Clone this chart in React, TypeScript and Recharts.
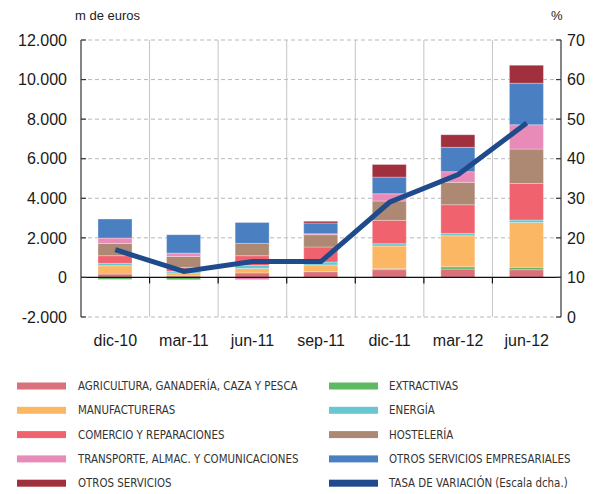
import React from "react";
import {
  ComposedChart,
  Bar,
  Line,
  XAxis,
  YAxis,
  CartesianGrid,
  ReferenceLine,
} from "recharts";

const categories = ["dic-10", "mar-11", "jun-11", "sep-11", "dic-11", "mar-12", "jun-12"];

// m de euros, por sector
const agricultura = [170, 80, 230, 290, 390, 420, 390];
const extractivas = [-100, -120, 0, 0, 50, 120, 120];
const manufactureras = [420, 150, 220, 340, 1145, 1565, 2270];
const energia = [120, 80, 150, 150, 120, 120, 120];
const comercio = [390, 200, 500, 760, 1180, 1450, 1850];
const hosteleria = [620, 550, 620, 620, 975, 1130, 1735];
const transporte = [270, 170, -120, 50, 370, 540, 1230];
const otrosEmpresariales = [960, 930, 1060, 540, 840, 1230, 2100];
const otrosServicios = [0, 0, 0, 85, 640, 640, 910];

// % (escala dcha.)
const tasa = [17, 11.5, 14, 14, 29, 36, 49];

const leftTicks = [-2000, 0, 2000, 4000, 6000, 8000, 10000, 12000];
const rightTicks = [0, 10, 20, 30, 40, 50, 60, 70];

const series = [
  { key: "agri", name: "AGRICULTURA, GANADERÍA, CAZA Y PESCA", color: "#d9707b", values: agricultura },
  { key: "extr", name: "EXTRACTIVAS", color: "#5dba63", values: extractivas },
  { key: "manu", name: "MANUFACTURERAS", color: "#fbb764", values: manufactureras },
  { key: "ener", name: "ENERGÍA", color: "#67c7d3", values: energia },
  { key: "come", name: "COMERCIO Y REPARACIONES", color: "#f0636e", values: comercio },
  { key: "host", name: "HOSTELERÍA", color: "#ad8873", values: hosteleria },
  { key: "tran", name: "TRANSPORTE, ALMAC. Y COMUNICACIONES", color: "#e98bb9", values: transporte },
  { key: "ose", name: "OTROS SERVICIOS EMPRESARIALES", color: "#4a7fc2", values: otrosEmpresariales },
  { key: "otros", name: "OTROS SERVICIOS", color: "#a1303f", values: otrosServicios },
];
const lineColor = "#1f4a8c";
const lineName = "TASA DE VARIACIÓN (Escala dcha.)";

const data = categories.map((cat, i) => {
  const row: Record<string, number | string> = { cat, tasa: tasa[i] };
  series.forEach((s) => (row[s.key] = s.values[i]));
  return row;
});

// legend order as in the original: two columns
const legendLeft = ["agri", "manu", "come", "tran", "otros"];
const legendRight = ["extr", "ener", "host", "ose", "tasa"];

const fmtNum = (v: number) => v.toLocaleString("de-DE");

const axisFont = "'Liberation Sans', Arial, Helvetica, sans-serif";
const narrowFont = "'Liberation Sans Narrow', 'Arial Narrow', 'DejaVu Sans Condensed', Arial, sans-serif";

function ZeroLine(props: any) {
  const { x1, x2, y1 } = props;
  const n = categories.length;
  const step = (x2 - x1) / n;
  const ticks = [];
  for (let i = 1; i < n; i++) {
    const x = x1 + step * i;
    ticks.push(<line key={i} x1={x} x2={x} y1={y1} y2={y1 + 6} stroke="#111" strokeWidth={1.2} />);
  }
  return (
    <g>
      <line x1={x1} x2={x2} y1={y1} y2={y1} stroke="#111" strokeWidth={1.2} />
      {ticks}
    </g>
  );
}

function Legend() {
  const rows = 5;
  const item = (k: string) => {
    if (k === "tasa") return { name: lineName, color: lineColor };
    const s = series.find((x) => x.key === k)!;
    return { name: s.name, color: s.color };
  };
  return (
    <svg width={607} height={134} style={{ position: "absolute", left: 0, top: 360 }}>
      {[...Array(rows)].map((_, r) => {
        const y = 26 + r * 24.3;
        const a = item(legendLeft[r]);
        const b = item(legendRight[r]);
        return (
          <g key={r} fontFamily={narrowFont} fontSize={11.4} fill="#333">
            <rect x={17} y={y - 3.5} width={49} height={7} fill={a.color} />
            <text x={78} y={y} dominantBaseline="central">{a.name}</text>
            <rect x={329} y={y - 3.5} width={49} height={7} fill={b.color} />
            <text x={389} y={y} dominantBaseline="central">{b.name}</text>
          </g>
        );
      })}
    </svg>
  );
}

export default function App() {
  return (
    <div style={{ position: "absolute", left: 0, top: 0, width: 607, height: 494, background: "#fff" }}>
      <div style={{ position: "absolute", left: 75, top: 8, fontFamily: axisFont, fontSize: 13, color: "#222" }}>
        m de euros
      </div>
      <div style={{ position: "absolute", left: 551, top: 8, fontFamily: axisFont, fontSize: 13, color: "#222" }}>
        %
      </div>
      <ComposedChart
        width={607}
        height={360}
        data={data}
        stackOffset="sign"
        margin={{ top: 40, right: 0, bottom: 0, left: 0 }}
        barSize={34}
      >
        <CartesianGrid
          yAxisId="left"
          stroke="#b8b8b8"
          strokeDasharray="4 3"
          vertical={false}
        />
        <CartesianGrid
          yAxisId="left"
          stroke="#c4c4c4"
          horizontal={false}
          verticalCoordinatesGenerator={({ offset }: any) =>
            categories.slice(1).map((_, i) => offset.left + ((i + 1) * offset.width) / categories.length)
          }
        />
        <XAxis
          dataKey="cat"
          axisLine={false}
          tickLine={false}
          height={43}
          tickMargin={12}
          tick={{ fontSize: 16, fill: "#1a1a1a", fontFamily: axisFont }}
          interval={0}
        />
        <YAxis
          yAxisId="left"
          orientation="left"
          width={81}
          domain={[-2000, 12000]}
          ticks={leftTicks}
          tickFormatter={fmtNum}
          axisLine={{ stroke: "#333", strokeWidth: 1.2 }}
          tickLine={{ stroke: "#333", strokeWidth: 1.2 }}
          tickSize={-5}
          tickMargin={19}
          tick={{ fontSize: 16, fill: "#1a1a1a", fontFamily: axisFont }}
          interval={0}
        />
        <YAxis
          yAxisId="right"
          orientation="right"
          width={46}
          domain={[0, 70]}
          ticks={rightTicks}
          axisLine={{ stroke: "#333", strokeWidth: 1.2 }}
          tickLine={{ stroke: "#333", strokeWidth: 1.2 }}
          tickSize={-5}
          tickMargin={11}
          tick={{ fontSize: 16, fill: "#1a1a1a", fontFamily: axisFont }}
          interval={0}
        />
        {series.map((s) => (
          <Bar
            key={s.key}
            yAxisId="left"
            dataKey={s.key}
            name={s.name}
            stackId="a"
            fill={s.color}
            stroke="#ffffff"
            strokeOpacity={0.5}
            strokeWidth={0.6}
            isAnimationActive={false}
          />
        ))}
        <ReferenceLine yAxisId="left" y={0} shape={ZeroLine} />
        <Line
          yAxisId="right"
          dataKey="tasa"
          name={lineName}
          stroke={lineColor}
          strokeWidth={5}
          dot={false}
          type="linear"
          isAnimationActive={false}
        />
      </ComposedChart>
      <Legend />
    </div>
  );
}
